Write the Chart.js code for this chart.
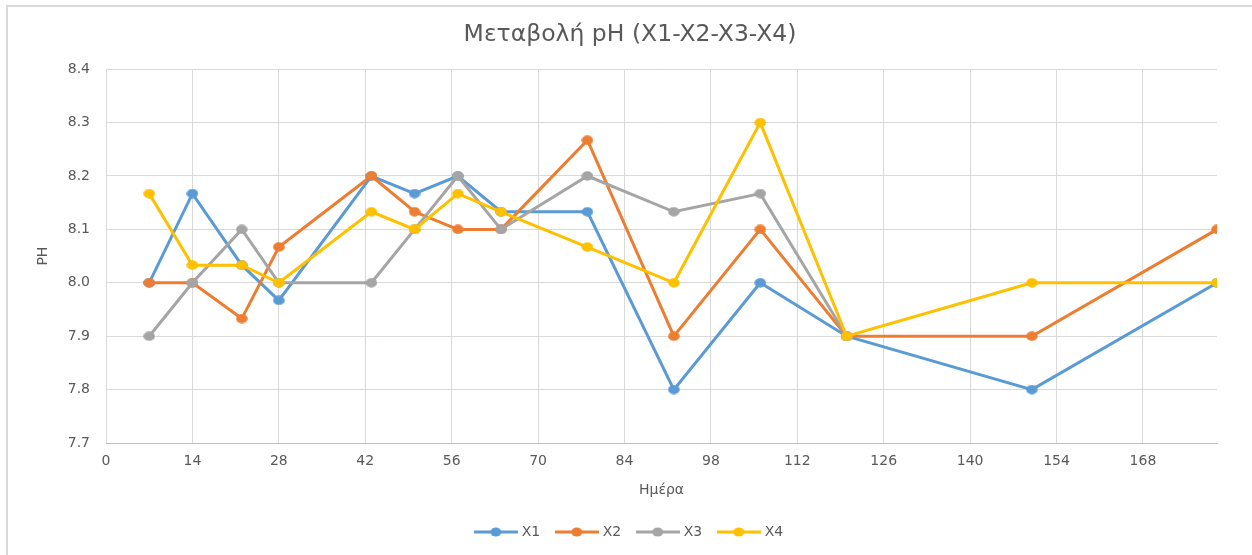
<!DOCTYPE html>
<html>
<head>
<meta charset="utf-8">
<script src="https://cdn.jsdelivr.net/npm/chart.js@4"></script>
<style>
  html, body { margin: 0; padding: 0; background: #ffffff; }
  #wrap { width: 1252px; height: 555px; }
</style>
</head>
<body>
<div id="wrap"><canvas id="chart" width="1252" height="555"></canvas></div>
<script>
// Sampling days (X3 has no readings after day 120)
const days = [7, 14, 22, 28, 43, 50, 57, 64, 78, 92, 106, 120, 150, 180];
const daysX3 = [7, 14, 22, 28, 43, 50, 57, 64, 78, 92, 106, 120];

// pH readings per series
const phX1 = [8.0, 8.167, 8.033, 7.967, 8.2, 8.167, 8.2, 8.133, 8.133, 7.8, 8.0, 7.9, 7.8, 8.0];
const phX2 = [8.0, 8.0, 7.933, 8.067, 8.2, 8.133, 8.1, 8.1, 8.267, 7.9, 8.1, 7.9, 7.9, 8.1];
const phX3 = [7.9, 8.0, 8.1, 8.0, 8.0, 8.1, 8.2, 8.1, 8.2, 8.133, 8.167, 7.9];
const phX4 = [8.167, 8.033, 8.033, 8.0, 8.133, 8.1, 8.167, 8.133, 8.067, 8.0, 8.3, 7.9, 8.0, 8.0];

const seriesNames = ['X1', 'X2', 'X3', 'X4'];
const seriesColors = ['#5B9BD5', '#ED7D31', '#A5A5A5', '#FFC000'];

const chartTitle = 'Μεταβολή pH (X1-X2-X3-X4)';
const xTitle = 'Ημέρα';
const yTitle = 'PH';

const FONT = "'DejaVu Sans', 'Open Sans', sans-serif";
const TEXT = '#595959';

function toPoints(xs, ys) {
  return xs.map((x, i) => ({ x: x, y: ys[i] }));
}

// Slightly wide oval marker
function marker(color) {
  const c = document.createElement('canvas');
  c.width = 12; c.height = 10;
  const g = c.getContext('2d');
  g.fillStyle = color;
  g.beginPath(); g.ellipse(6, 5, 5.8, 4.7, 0, 0, Math.PI * 2); g.fill();
  return c;
}

// Legend icon: short line with the marker in the middle
function legendIcon(color) {
  const c = document.createElement('canvas');
  c.width = 44; c.height = 12;
  const g = c.getContext('2d');
  g.strokeStyle = color;
  g.lineWidth = 3;
  g.beginPath(); g.moveTo(0, 6); g.lineTo(44, 6); g.stroke();
  g.fillStyle = color;
  g.beginPath(); g.ellipse(22, 6, 5.5, 4.6, 0, 0, Math.PI * 2); g.fill();
  return c;
}
const icons = seriesColors.map(legendIcon);
const markers = seriesColors.map(marker);

const seriesData = [toPoints(days, phX1), toPoints(days, phX2), toPoints(daysX3, phX3), toPoints(days, phX4)];

const datasets = seriesNames.map((name, i) => ({
  label: name,
  data: seriesData[i],
  borderColor: seriesColors[i],
  backgroundColor: seriesColors[i],
  pointStyle: markers[i],
  pointRadius: 5,
  pointHoverRadius: 5,
  borderWidth: 3,
  tension: 0,
  fill: false,
  // later series sit on top
  order: seriesNames.length - i
}));

// Chart frame (left and top edges) and white background
const framePlugin = {
  id: 'frame',
  beforeDraw(chart) {
    const ctx = chart.ctx;
    ctx.save();
    ctx.fillStyle = '#ffffff';
    ctx.fillRect(0, 0, chart.width, chart.height);
    ctx.strokeStyle = '#d9d9d9';
    ctx.lineWidth = 2;
    ctx.beginPath();
    ctx.moveTo(7, chart.height);
    ctx.lineTo(7, 6);
    ctx.lineTo(chart.width, 6);
    ctx.stroke();
    ctx.restore();
  }
};

new Chart(document.getElementById('chart'), {
  type: 'line',
  data: { datasets: datasets },
  plugins: [framePlugin],
  options: {
    responsive: false,
    animation: false,
    layout: { padding: { left: 8, right: 0, top: 0, bottom: 6 } },
    plugins: {
      title: {
        display: true,
        text: chartTitle,
        color: TEXT,
        font: { family: FONT, size: 23.5, weight: 'normal' },
        padding: { top: 21, bottom: 20 }
      },
      legend: {
        position: 'bottom',
        labels: {
          color: TEXT,
          font: { family: FONT, size: 14 },
          usePointStyle: true,
          pointStyleWidth: 38,
          padding: 17.5,
          sort: (a, b) => a.datasetIndex - b.datasetIndex,
          generateLabels(chart) {
            const items = Chart.defaults.plugins.legend.labels.generateLabels(chart);
            items.forEach(it => { it.pointStyle = icons[it.datasetIndex]; });
            return items;
          }
        }
      },
      tooltip: { enabled: false }
    },
    scales: {
      x: {
        type: 'linear',
        position: 'bottom',
        min: 0,
        max: 180,
        afterFit(s) { s.height = 64.5; },
        ticks: {
          stepSize: 14,
          includeBounds: false,
          color: TEXT,
          font: { family: FONT, size: 14 },
          padding: 10,
          maxRotation: 0
        },
        grid: { color: '#d9d9d9', lineWidth: 1, drawTicks: false },
        border: { color: '#bfbfbf', width: 1 },
        title: {
          display: true,
          text: xTitle,
          color: TEXT,
          font: { family: FONT, size: 14 },
          padding: { top: 0, bottom: 9 }
        }
      },
      y: {
        min: 7.7,
        max: 8.4,
        afterFit(s) { s.width = 98; },
        ticks: {
          stepSize: 0.1,
          color: TEXT,
          font: { family: FONT, size: 14 },
          padding: 16,
          callback: v => Number(v).toFixed(1)
        },
        grid: { color: '#d9d9d9', lineWidth: 1, drawTicks: false },
        border: { display: false },
        title: {
          display: true,
          text: yTitle,
          color: TEXT,
          font: { family: FONT, size: 14 },
          padding: { top: 26.5, bottom: 0 }
        }
      },
      yRight: {
        position: 'right',
        display: true,
        afterFit(s) { s.width = 35; },
        ticks: { display: false },
        grid: { display: false, drawTicks: false },
        border: { display: false }
      }
    }
  }
});
</script>
</body>
</html>
